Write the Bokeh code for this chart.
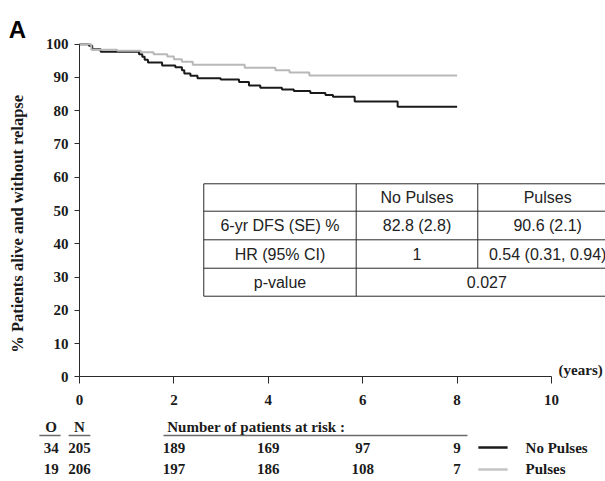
from bokeh.plotting import figure
from bokeh.models import Range1d, LinearAxis, FixedTicker
from bokeh.core.properties import value
from bokeh.embed import file_html
from bokeh.resources import INLINE

# ---------------- data ----------------
years_nopulses = [0, 0.20, 0.27, 0.45, 1.26, 1.33, 1.38, 1.45, 1.75, 2.03, 2.17, 2.22, 2.35,
                  2.50, 2.99, 3.38, 3.59, 3.83, 4.29, 4.54, 4.89, 5.21, 5.37, 5.83, 6.74, 8.0]
surv_nopulses = [100, 99.5, 98.5, 97.7, 97.0, 96.2, 95.3, 94.5, 93.6, 93.1, 92.2, 91.2, 90.5,
                 89.8, 89.4, 88.6, 87.6, 86.9, 86.4, 85.9, 85.3, 84.7, 84.2, 82.8, 81.2, 81.2]

years_pulses = [0, 0.25, 0.80, 1.30, 1.57, 1.86, 2.00, 2.17, 2.40, 3.50, 4.15, 4.45, 4.87, 8.0]
surv_pulses = [100, 98.3, 98.0, 97.6, 97.0, 96.3, 95.5, 94.7, 93.8, 92.9, 92.2, 91.5, 90.6, 90.6]

x_ticks = [0, 2, 4, 6, 8, 10]
y_ticks = [0, 10, 20, 30, 40, 50, 60, 70, 80, 90, 100]

groups = ["No Pulses", "Pulses"]
observed = [34, 19]
numbers = [205, 206]
risk_times = [2, 4, 6, 8]
risk_nopulses = [189, 169, 97, 9]
risk_pulses = [197, 186, 108, 7]

table_header = ["", "No Pulses", "Pulses"]
table_rows = [["6-yr DFS (SE) %", "82.8 (2.8)", "90.6 (2.1)"],
              ["HR (95% CI)", "1", "0.54 (0.31, 0.94)"]]
pvalue_label = "p-value"
pvalue = "0.027"

# ---------------- layout (data units: years / percent) ----------------
X0, X1 = -1.6737, 11.144
Y0, Y1 = -31.48, 113.14

SERIF = "Liberation Serif"
SANS = "Liberation Sans"
BLACK = "#1a1a1a"
GREY = "#b8b8b8"

p = figure(width=605, height=481, x_range=Range1d(X0, X1), y_range=Range1d(Y0, Y1),
           output_backend="svg", toolbar_location=None,
           x_axis_location=None, y_axis_location=None,
           min_border=0, outline_line_color=None, background_fill_color="white",
           border_fill_color="white")
p.grid.visible = False

# axes pinned at zero
xaxis = LinearAxis(fixed_location=0, bounds=(0, 10), ticker=FixedTicker(ticks=x_ticks))
yaxis = LinearAxis(fixed_location=0, bounds=(0, 100), ticker=FixedTicker(ticks=y_ticks))
for ax in (xaxis, yaxis):
    ax.axis_line_color = "#2a2a2a"
    ax.axis_line_width = 1
    ax.major_tick_line_color = "#2a2a2a"
    ax.major_tick_in = 0
    ax.minor_tick_in = 0
    ax.minor_tick_out = 0
    ax.major_label_text_font = SERIF
    ax.major_label_text_font_style = "bold"
    ax.major_label_text_font_size = "15px"
    ax.major_label_text_color = BLACK
xaxis.major_tick_out = 7
xaxis.major_label_standoff = 11
yaxis.major_tick_out = 5
yaxis.major_label_standoff = 6
p.add_layout(xaxis, "below")
p.add_layout(yaxis, "left")

# survival curves
p.step(years_nopulses, surv_nopulses, mode="after", line_color=BLACK, line_width=2)
p.step(years_pulses, surv_pulses, mode="after", line_color=GREY, line_width=2)

# panel letter, axis title, unit
p.text(x=[-1.50], y=[104.3], text=["A"], text_font=value(SANS), text_font_style="bold",
       text_font_size="24px", text_baseline="middle", text_align="left", text_color="black")
p.text(x=[-1.31], y=[46.0], text=["% Patients alive and without relapse"], angle=1.5708,
       text_font=value(SERIF), text_font_style="bold", text_font_size="16.5px",
       text_baseline="middle", text_align="center", text_color=BLACK)
p.text(x=[10.15], y=[1.9], text=["(years)"], text_font=value(SERIF), text_font_style="bold",
       text_font_size="15px", text_baseline="middle", text_align="left", text_color=BLACK)

# ---------------- results table ----------------
tx = [2.633, 5.862, 8.438, 11.4]
ty = [58.03, 49.79, 41.19, 32.65, 24.23]
p.segment(x0=[tx[0]] * 5, y0=ty, x1=[tx[3]] * 5, y1=ty, line_color="#2a2a2a", line_width=1)
p.segment(x0=[tx[0], tx[1], tx[2]], y0=[ty[4], ty[4], ty[3]],
          x1=[tx[0], tx[1], tx[2]], y1=[ty[0], ty[0], ty[0]], line_color="#2a2a2a", line_width=1)
col_c = [(tx[0] + tx[1]) / 2, (tx[1] + tx[2]) / 2, (tx[2] + tx[3]) / 2]
row_c = [(ty[i] + ty[i + 1]) / 2 for i in range(4)]
cells_x, cells_y, cells_t = [], [], []
for r, row in enumerate([table_header] + table_rows):
    for c, txt in enumerate(row):
        if txt:
            cells_x.append(col_c[c]); cells_y.append(row_c[r]); cells_t.append(txt)
cells_x += [col_c[0], (tx[1] + tx[3]) / 2]
cells_y += [row_c[3], row_c[3]]
cells_t += [pvalue_label, pvalue]
p.text(x=cells_x, y=cells_y, text=cells_t, text_font=value(SANS), text_font_size="16px",
       text_align="center", text_baseline="middle", text_color="#222222")

# ---------------- numbers at risk ----------------
RISK_FS = "15px"
HDR_Y, LINE_Y = -15.24, -17.65
ROW_Y = [-21.26, -27.87]
OX, NX = -0.60, 0.0

p.text(x=[OX, NX], y=[HDR_Y, HDR_Y], text=["O", "N"], text_font=value(SERIF),
       text_font_style="bold", text_font_size=RISK_FS, text_align="center",
       text_baseline="middle", text_color=BLACK)
p.text(x=[1.86], y=[HDR_Y], text=["Number of patients at risk :"], text_font=value(SERIF),
       text_font_style="bold", text_font_size=RISK_FS, text_align="left",
       text_baseline="middle", text_color=BLACK)
p.segment(x0=[-0.85, -0.23, 1.78], y0=[LINE_Y] * 3, x1=[-0.40, 0.23, 8.22], y1=[LINE_Y] * 3,
          line_color="#6a6a6a", line_width=1.5)

for i, risk in enumerate([risk_nopulses, risk_pulses]):
    xs = [OX, NX] + risk_times
    vals = [observed[i], numbers[i]] + risk
    p.text(x=xs, y=[ROW_Y[i]] * len(xs), text=[str(v) for v in vals], text_font=value(SERIF),
           text_font_style="bold", text_font_size=RISK_FS, text_align="center",
           text_baseline="middle", text_color=BLACK)

# legend
p.segment(x0=[8.45, 8.45], y0=ROW_Y, x1=[9.07, 9.07], y1=ROW_Y,
          line_color=[BLACK, "#c4c4c4"], line_width=2.5)
p.text(x=[9.45, 9.45], y=ROW_Y, text=groups, text_font=value(SERIF), text_font_style="bold",
       text_font_size=RISK_FS, text_align="left", text_baseline="middle", text_color=BLACK)

open("out.html", "w").write(file_html(p, INLINE))
